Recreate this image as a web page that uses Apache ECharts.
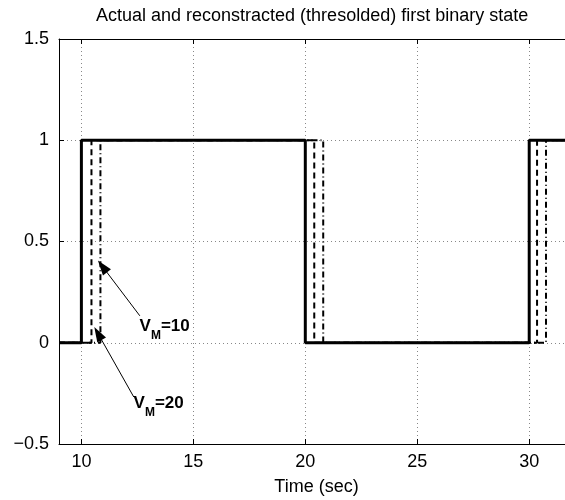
<!DOCTYPE html>
<html>
<head>
<meta charset="utf-8">
<script src="https://cdn.jsdelivr.net/npm/echarts@6/dist/echarts.min.js"></script>
<style>
  html, body { margin: 0; padding: 0; background: #fff; }
  #chart { width: 565px; height: 500px; }
</style>
</head>
<body>
<div id="chart"></div>
<script>
// actual binary state (solid)
const actualTime = [9, 10, 10, 20, 20, 30, 30, 32];
const actualState = [0, 0, 1, 1, 0, 0, 1, 1];
// reconstructed, V_M = 20 (dashed)
const vm20Time = [9, 10.45, 10.45, 20.4, 20.4, 30.35, 30.35, 32];
const vm20State = [0, 0, 1, 1, 0, 0, 1, 1];
// reconstructed, V_M = 10 (dash-dot)
const vm10Time = [9, 10.85, 10.85, 20.8, 20.8, 30.75, 30.75, 32];
const vm10State = [0, 0, 1, 1, 0, 0, 1, 1];

// annotations, in data units: [tailX, tailY, headX, headY]
const arrowVm10 = [12.61, 0.133, 10.94, 0.377];
const arrowVm20 = [12.34, -0.268, 10.74, 0.046];
const labelVm10 = [12.6, 0.08];
const labelVm20 = [12.33, -0.30];

const font = '"Liberation Sans", Arial, Helvetica, sans-serif';
const zip = (t, v) => t.map((x, i) => [x, v[i]]);

const chartDom = document.getElementById('chart');
const myChart = echarts.init(chartDom);

const axisText = { fontSize: 18, color: '#000', fontFamily: font };
const gridLine = { show: true, lineStyle: { color: '#888', width: 1, type: [1, 3] } };

const option = {
  animation: false,
  title: {
    text: 'Actual and reconstracted (thresolded) first binary state',
    left: 96,
    top: 7,
    padding: 0,
    textStyle: { fontSize: 18, fontWeight: 'normal', color: '#000', fontFamily: font }
  },
  grid: { left: 59, right: -9, top: 39, bottom: 56, containLabel: false, outerBoundsMode: 'none' },
  xAxis: [{
    type: 'value', min: 9, max: 32, splitNumber: 5, minInterval: 5, maxInterval: 5,
    position: 'bottom',
    name: 'Time (sec)', nameLocation: 'middle', nameGap: 34,
    nameTextStyle: axisText,
    axisLine: { show: true, onZero: false, lineStyle: { color: '#000', width: 1 } },
    axisTick: { show: true, inside: true, length: 5, lineStyle: { color: '#000' } },
    axisLabel: Object.assign({ margin: 9, showMinLabel: false, showMaxLabel: false }, axisText),
    splitLine: gridLine
  }, {
    type: 'value', min: 9, max: 32, splitNumber: 5, minInterval: 5, maxInterval: 5,
    position: 'top',
    axisLine: { show: true, onZero: false, lineStyle: { color: '#000', width: 1 } },
    axisTick: { show: true, inside: true, length: 5, lineStyle: { color: '#000' } },
    axisLabel: { show: false },
    splitLine: { show: false }
  }],
  yAxis: {
    type: 'value', min: -0.5, max: 1.5, interval: 0.5,
    axisLine: { show: true, onZero: false, lineStyle: { color: '#000', width: 1 } },
    axisTick: { show: true, inside: true, length: 5, lineStyle: { color: '#000' } },
    axisLabel: Object.assign({
      margin: 10,
      formatter: v => String(v).replace('-', '\u2212')
    }, axisText),
    splitLine: gridLine
  },
  series: [{
    name: 'actual',
    type: 'line',
    data: zip(actualTime, actualState),
    showSymbol: false,
    lineStyle: { color: '#000', width: 3, type: 'solid' },
    z: 3,
    markLine: {
      silent: true,
      symbol: ['none', 'triangle'],
      symbolSize: [10, 15],
      label: { show: false },
      lineStyle: { color: '#000', width: 1, type: 'solid' },
      itemStyle: { color: '#000' },
      data: [
        [{ coord: arrowVm10.slice(0, 2) }, { coord: arrowVm10.slice(2) }],
        [{ coord: arrowVm20.slice(0, 2) }, { coord: arrowVm20.slice(2) }]
      ]
    }
  }, {
    name: 'VM=20',
    type: 'line',
    data: zip(vm20Time, vm20State),
    showSymbol: false,
    lineStyle: { color: '#000', width: 2, type: [6, 4] },
    z: 2
  }, {
    name: 'VM=10',
    type: 'line',
    data: zip(vm10Time, vm10State),
    showSymbol: false,
    lineStyle: { color: '#000', width: 2, type: [6, 3, 1, 3] },
    z: 2
  }]
};

myChart.setOption(option);

// V_M labels placed from data coordinates
const labelText = (val) => ({
  text: '{v|V}{s|M}{v|=' + val + '}',
  fill: '#000',
  verticalAlign: 'middle',
  rich: {
    v: { fontSize: 17, fontWeight: 'bold', fontFamily: font, lineHeight: 16 },
    s: { fontSize: 12, fontWeight: 'bold', fontFamily: font, lineHeight: 12, padding: [18, 0, 0, 0] }
  }
});
const p10 = myChart.convertToPixel({ gridIndex: 0 }, labelVm10);
const p20 = myChart.convertToPixel({ gridIndex: 0 }, labelVm20);
myChart.setOption({
  graphic: [
    { type: 'text', x: p10[0], y: p10[1], silent: true, style: labelText(10) },
    { type: 'text', x: p20[0], y: p20[1], silent: true, style: labelText(20) }
  ]
});

window.addEventListener('resize', () => myChart.resize());
</script>
</body>
</html>
